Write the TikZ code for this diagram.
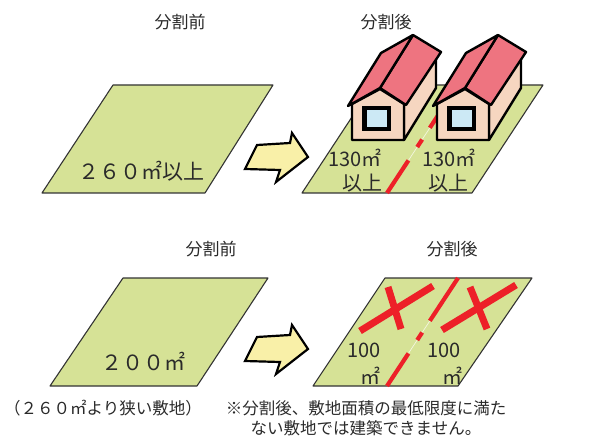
\documentclass[tikz,border=0pt]{standalone}
\usepackage{fontspec}
\newfontfamily\jp{Noto Sans CJK JP}
\usetikzlibrary{calc}

\definecolor{terreno}{RGB}{214,226,150}
\definecolor{tetto}{RGB}{238,116,128}
\definecolor{muro}{RGB}{246,214,192}
\definecolor{vetro}{RGB}{204,233,245}
\definecolor{giallo}{RGB}{249,240,168}
\definecolor{rosso}{RGB}{237,32,40}
\definecolor{testo}{RGB}{42,42,42}

\tikzset{
	lotto/.style={fill=terreno, draw=black!80, line width=1.1pt, line join=round},
	casa/.style={draw=black, line width=2.4pt, line join=round},
	freccione/.style={fill=giallo, draw=black, line width=2.2pt, line join=miter},
	confine/.style={draw=rosso, line width=4.2pt, dash pattern=on 39pt off 16pt on 9pt off 14pt on 90pt},
	croce/.style={draw=rosso, line width=7pt},
	titolo/.style={font=\jp\fontsize{17}{20}\selectfont, text=testo},
	area/.style={font=\jp\fontsize{20}{22}\selectfont, text=testo, inner sep=0pt},
	nota/.style={font=\jp\fontsize{16.5}{20}\selectfont, text=testo, align=center}
}

% casetta con tetto a capanna, spostata di #1 in orizzontale
\newcommand{\casetta}[1]{%
	\begin{scope}[shift={(#1,0)}]
		\filldraw[casa, fill=muro] (404,140) -- (436,88) -- (436,52) -- (404,104) -- cycle;
		\filldraw[casa, fill=muro] (352,140) -- (404,140) -- (404,104) -- (380,89) -- (352,104) -- cycle;
		\fill[black] (362,106) rectangle (391,131);
		\fill[vetro] (367,110) rectangle (387,127);
		\filldraw[casa, fill=tetto] (380,88) -- (413,35) -- (441,52) -- (406,105) -- cycle;
		\filldraw[casa, fill=tetto] (348,106) -- (380,88) -- (413,35) -- (381,53) -- cycle;
	\end{scope}}

\begin{document}
\begin{tikzpicture}[x=1pt, y=-1pt]
		\useasboundingbox (0,0) rectangle (611,441);
		
		%Titoli sopra i lotti
		\node[titolo] (primaSopra) at (180,22) {分割前};
		\node[titolo] (dopoSopra) at (386,22) {分割後};
		\node[titolo] (primaSotto) at (211,249) {分割前};
		\node[titolo] (dopoSotto) at (452,249) {分割後};
		
		%Lotti
		\filldraw[lotto] (113,85) -- (273,85) -- (205,193) -- (42,193) -- cycle;
		\filldraw[lotto] (373,85) -- (543,85) -- (472,193) -- (302,193) -- cycle;
		\filldraw[lotto] (123,278) -- (268,278) -- (197,386) -- (50,386) -- cycle;
		\filldraw[lotto] (385,278) -- (532,278) -- (458,386) -- (313,386) -- cycle;
		
		%Frecce
		\foreach \dy in {0,192}
		\filldraw[freccione, yshift=-\dy] (257,145) -- (290,143) -- (292,133) -- (308,157)
		-- (276,182) -- (280,170) -- (245,169) -- cycle;
		
		%Linee di divisione
		\coordinate (giuA) at (387,193);
		\coordinate (suA) at (458,85);
		\coordinate (giuB) at (387,386);
		\coordinate (suB) at (458,278);
		\draw[white!70!terreno, line width=0.7pt] (giuA) -- (suA);
		\draw[white!70!terreno, line width=0.7pt] (giuB) -- (suB);
		\draw[confine] (giuA) -- (suA);
		\draw[confine] (giuB) -- (suB);
		
		%Case
		\casetta{0}
		\casetta{85}
		
		%Croci
		\draw[croce] (360,331) -- (433,286);
		\draw[croce] (388,287) -- (401,329);
		\draw[croce] (442,330) -- (516,285);
		\draw[croce] (470,287) -- (487,329);
		
		%Superfici
		\node[area, font=\jp\fontsize{21}{22}\selectfont] (sup260) at (141,171) {２６０㎡以上};
		\node[area] (sup130a) at (355,158) {130㎡};
		\node[area] (piuA) at (362,183) {以上};
		\node[area] (sup130b) at (449,158) {130㎡};
		\node[area] (piuB) at (448,183) {以上};
		\node[area, font=\jp\fontsize{21}{22}\selectfont] (sup200) at (143,361) {２００㎡};
		\node[area] (sup100a) at (364,350) {100};
		\node[area] (mqA) at (370,376) {㎡};
		\node[area] (sup100b) at (444,350) {100};
		\node[area] (mqB) at (452,376) {㎡};
		
		%Note in basso
		\node[nota] (stretto) at (103,408) {（２６０㎡より狭い敷地）};
		\node[nota] (avviso) at (366,418) {※分割後、敷地面積の最低限度に満た\\ない敷地では建築できません。};
		
\end{tikzpicture}
\end{document}
